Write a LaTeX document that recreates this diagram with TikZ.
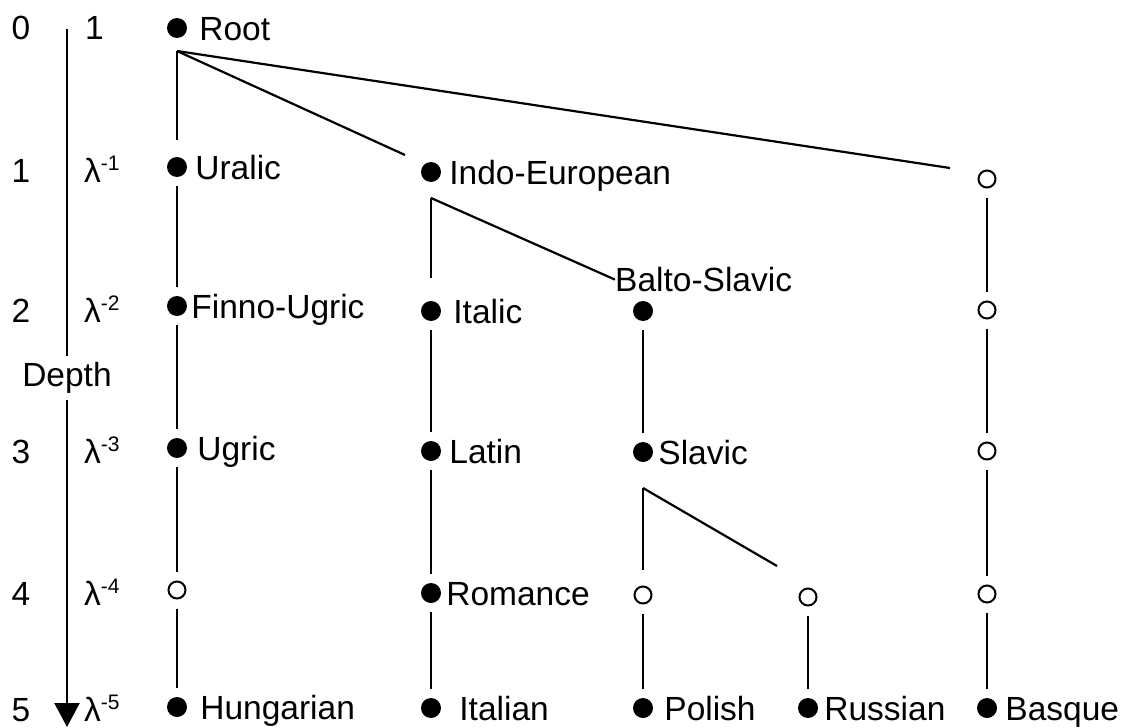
\documentclass[tikz,border=0pt]{standalone}
\usepackage{fontspec}
\setmainfont{Liberation Sans}
\usetikzlibrary{arrows.meta}

\newcommand\lampow[1]{λ\raisebox{12pt}{\fontsize{21}{21}\selectfont -#1}}

\begin{document}
\begin{tikzpicture}[
    x=1pt, y=-1pt,
    every node/.style={font=\fontsize{33.5}{40}\selectfont},
    dot/.style={circle, fill=black, inner sep=0pt, minimum size=20pt},
    hollow/.style={circle, draw=black, line width=2pt, fill=white, inner sep=0pt, minimum size=17pt},
    num/.style={inner sep=0pt, text height=24pt, text depth=0pt},
    lbl/.style={num, label distance=8pt},
    link/.style={line width=2.2pt, shorten <=9pt, shorten >=9pt},
    branch/.style={line width=2.2pt},
    depth/.style={line width=2.2pt}
]
    \path[use as bounding box, fill=white] (0,0) rectangle (1128,728);

    % Depth axis
    \foreach \d/\y in {0/27, 1/170, 2/310, 3/451, 4/593, 5/709}
        \node[num] (d\d) at (21,\y) {\d};
    \node[num, anchor=west] (s0) at (85,27) {1};
    \foreach \d/\y in {1/170, 2/310, 3/451, 4/593, 5/709}
        \node[num, anchor=west] (s\d) at (84,\y) {\lampow{\d}};
    \node[num, text depth=7pt, inner ysep=6pt] (depth) at (67,378) {Depth};
    \coordinate (dtop) at (67,29);
    \coordinate (dtip) at (67,727);
    \draw[depth] (dtop) -- (depth.north);
    \draw[depth, -{Triangle[width=25pt,length=24pt]}] (depth.south) -- (dtip);

    % Root
    \node[dot, label={[lbl, label distance=12pt]right:Root}] (root) at (177,28) {};

    % Uralic branch
    \node[dot, label={[lbl]right:Uralic}] (uralic) at (177,167) {};
    \node[dot, label={[lbl, label distance=4pt]right:Finno-Ugric}] (finno) at (177,306) {};
    \node[dot, label={[lbl, label distance=10pt]right:Ugric}] (ugric) at (177,448) {};
    \node[hollow] (ugric4) at (177,590) {};
    \node[dot, label={[lbl, label distance=13pt]right:Hungarian}] (hungarian) at (177,707) {};

    % Indo-European branch
    \node[dot, label={[lbl]right:Indo-European}] (ie) at (431,172) {};
    \node[dot, label={[lbl, label distance=12pt]right:Italic}] (italic) at (431,311) {};
    \node[dot, label={[lbl]right:Latin}] (latin) at (431,451) {};
    \node[dot, label={[lbl, label distance=5pt]right:Romance}] (romance) at (431,593) {};
    \node[dot, label={[lbl, label distance=18pt]right:Italian}] (italian) at (431,708) {};

    \node[dot, label={[lbl, name=balto-lbl, anchor=south west, xshift=-28pt, label distance=9pt]above:Balto-Slavic}] (balto) at (643,311) {};
    \node[dot, label={[lbl, label distance=5pt]right:Slavic}] (slavic) at (643,452) {};
    \node[hollow] (polish4) at (643,595) {};
    \node[dot, label={[lbl, label distance=11pt]right:Polish}] (polish) at (643,708) {};
    \node[hollow] (russian4) at (808,597) {};
    \node[dot, label={[lbl, label distance=6pt]right:Russian}] (russian) at (808,708) {};

    % Isolate
    \node[hollow] (basque1) at (987,179) {};
    \node[hollow] (basque2) at (987,310) {};
    \node[hollow] (basque3) at (987,451) {};
    \node[hollow] (basque4) at (987,594) {};
    \node[dot, label={[lbl]right:Basque}] (basque) at (987,708) {};

    % Forks
    \coordinate (root-fork) at ([yshift=-23pt]root.center);
    \coordinate (ie-fork) at ([yshift=-26pt]ie.center);
    \coordinate (slavic-fork) at ([yshift=-36pt]slavic.center);

    \draw[branch, shorten >=17pt] (root-fork) -- (uralic);
    \draw[branch] (root-fork) -- ([shift={(-26,-17)}]ie.center);
    \draw[branch] (root-fork) -- ([shift={(-37,-11)}]basque1.center);
    \draw[branch, shorten >=23pt] (ie-fork) -- (italic);
    \draw[branch] (ie-fork) -- (balto-lbl.west);
    \draw[branch, shorten >=16pt] (slavic-fork) -- (polish4);
    \draw[branch] (slavic-fork) -- ([shift={(-31,-31)}]russian4.center);

    % Chains
    \draw[link] (uralic) -- (finno);
    \draw[link] (finno) -- (ugric);
    \draw[link] (ugric) -- (ugric4);
    \draw[link] (ugric4) -- (hungarian);
    \draw[link] (italic) -- (latin);
    \draw[link] (latin) -- (romance);
    \draw[link] (romance) -- (italian);
    \draw[link] (balto) -- (slavic);
    \draw[link] (polish4) -- (polish);
    \draw[link] (russian4) -- (russian);
    \draw[link] (basque1) -- (basque2);
    \draw[link] (basque2) -- (basque3);
    \draw[link] (basque3) -- (basque4);
    \draw[link] (basque4) -- (basque);
\end{tikzpicture}
\end{document}
